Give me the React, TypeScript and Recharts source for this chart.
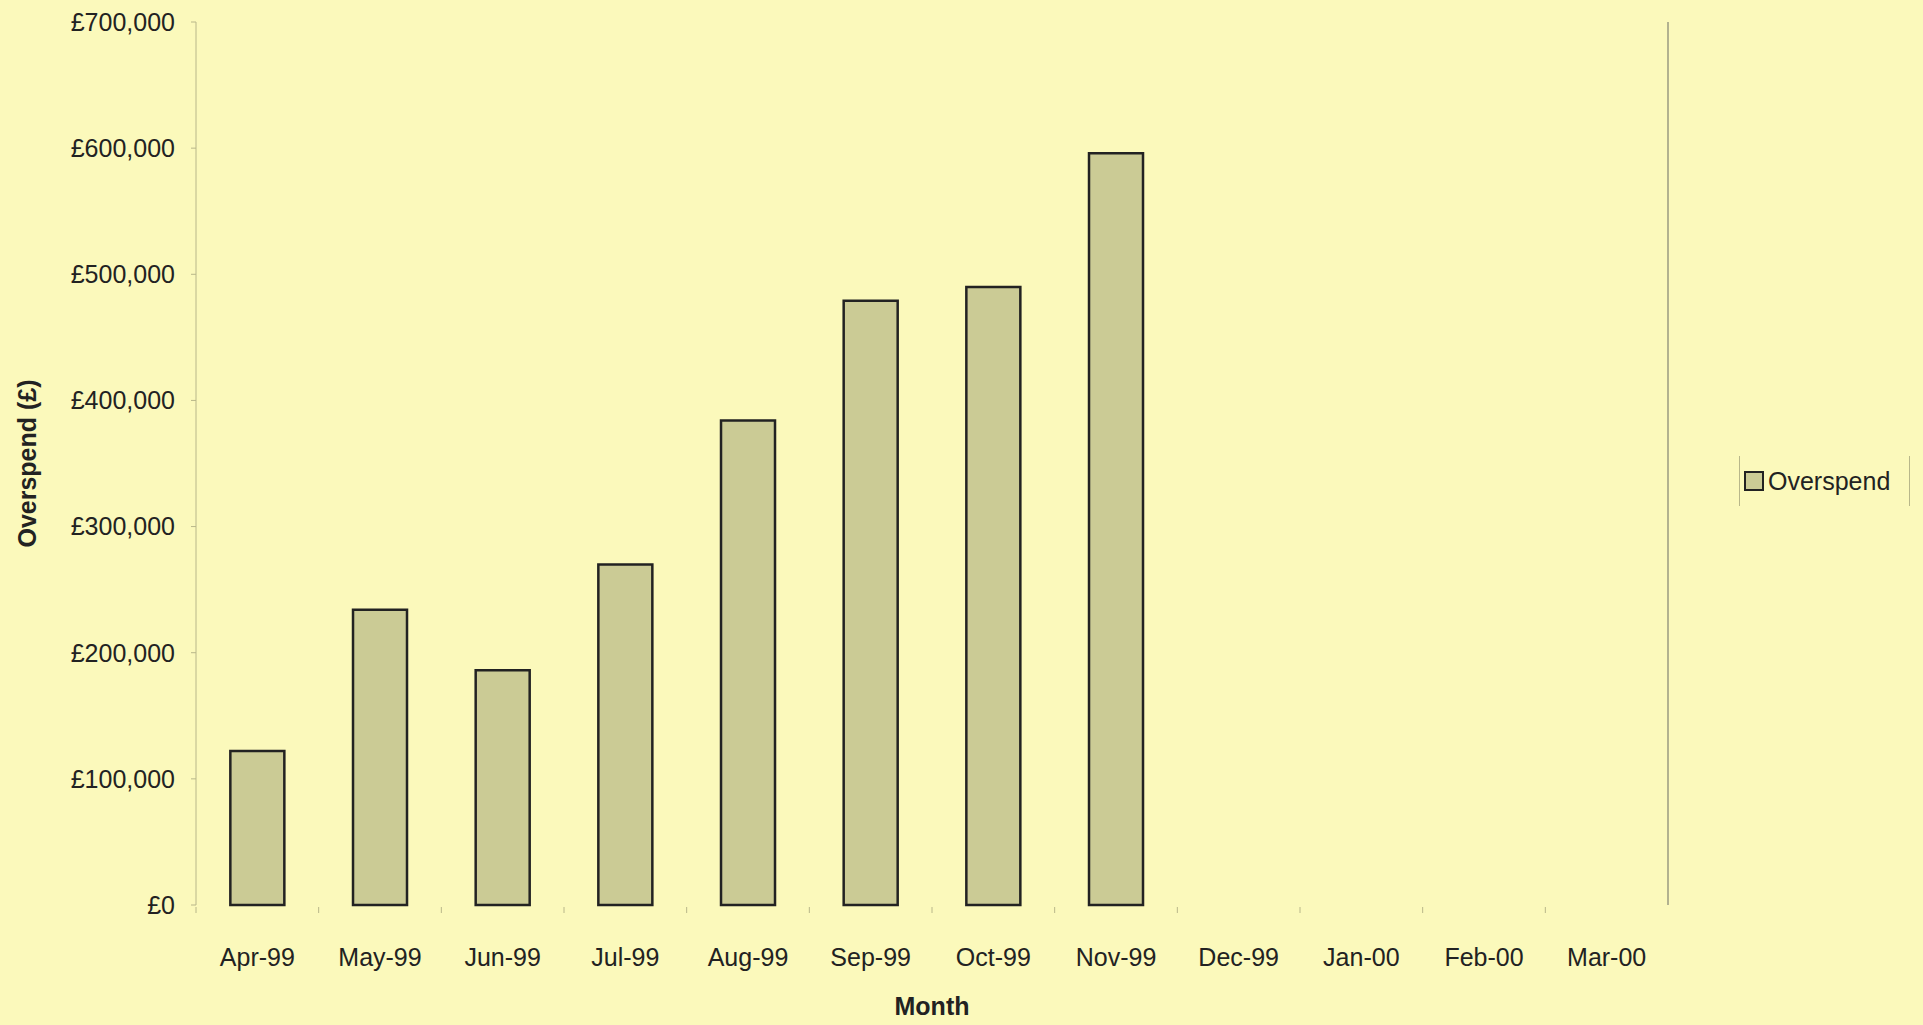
import { BarChart, Bar, XAxis, YAxis, Legend, CartesianGrid } from "recharts"

const months = [
  "Apr-99", "May-99", "Jun-99", "Jul-99", "Aug-99", "Sep-99",
  "Oct-99", "Nov-99", "Dec-99", "Jan-00", "Feb-00", "Mar-00",
]
const overspend = [122000, 234000, 186000, 270000, 384000, 479000, 490000, 596000, null, null, null, null]
const yTicks = [0, 100000, 200000, 300000, 400000, 500000, 600000, 700000]

const data = months.map((month, i) => ({ month, overspend: overspend[i] }))

const W = 1923
const H = 1025
const FONT = "'Liberation Sans', Arial, sans-serif"
const BG = "#fbf9bb"
const BAR = "#cbcb95"
const TEXT = "#222"
const AXIS = "#b8b78a"

const margin = { top: 22, right: 255, bottom: 10, left: 10 }
const plotWidth = W - margin.left - margin.right - 186
const band = plotWidth / months.length

const pounds = (v: number) => "£" + v.toLocaleString("en-GB")

function MonthTick(props: any) {
  const { x, y, payload } = props
  return (
    <g>
      <line x1={x - band / 2} x2={x - band / 2} y1={y - 41} y2={y - 35} stroke={AXIS} />
      <text x={x} y={y} dy="0.71em" textAnchor="middle" fill={TEXT} fontSize={25} fontFamily={FONT}>
        {payload.value}
      </text>
    </g>
  )
}

function YTitle(props: any) {
  const vb = props.viewBox
  const cx = vb.x + 17
  const cy = vb.y + vb.height / 2
  return (
    <text
      x={cx}
      y={cy}
      transform={`rotate(-90 ${cx} ${cy})`}
      textAnchor="middle"
      dominantBaseline="central"
      fill={TEXT}
      fontSize={25}
      fontWeight="bold"
      fontFamily={FONT}
    >
      Overspend (£)
    </text>
  )
}

function LegendBox() {
  return (
    <div
      style={{
        display: "flex",
        alignItems: "center",
        height: "100%",
        boxSizing: "border-box",
        borderLeft: `1px solid ${AXIS}`,
        borderRight: `1px solid ${AXIS}`,
        paddingLeft: 4,
        fontFamily: FONT,
        fontSize: 25,
        color: TEXT,
      }}
    >
      <span
        style={{
          display: "inline-block",
          width: 16,
          height: 16,
          background: BAR,
          border: "2.5px solid #222",
          marginRight: 4,
        }}
      />
      Overspend
    </div>
  )
}

export default function App() {
  return (
    <div style={{ position: "absolute", left: 0, top: 0, width: W, height: H, background: BG }}>
      <BarChart width={W} height={H} data={data} margin={margin} barCategoryGap="28%">
        {/* only the right-hand border of the plot area */}
        <CartesianGrid
          horizontal={false}
          verticalCoordinatesGenerator={({ offset }: any) => [offset.left + offset.width]}
          stroke="#9a9a80"
          strokeWidth={1.5}
        />
        <XAxis
          dataKey="month"
          height={110}
          tickLine={false}
          axisLine={false}
          tick={<MonthTick />}
          tickSize={5}
          tickMargin={38}
          interval={0}
          label={{ value: "Month", position: "insideBottom", offset: 0, fill: TEXT, fontSize: 25, fontWeight: "bold", fontFamily: FONT }}
        />
        <YAxis
          width={186}
          domain={[0, 700000]}
          ticks={yTicks}
          tickFormatter={pounds}
          tick={{ fill: TEXT, fontSize: 25, fontFamily: FONT }}
          tickSize={5}
          tickMargin={16}
          stroke={AXIS}
          label={{ content: <YTitle /> }}
        />
        <Legend
          layout="horizontal"
          align="center"
          verticalAlign="middle"
          content={<LegendBox />}
          wrapperStyle={{ left: 1739, top: 456, width: 171, height: 50 }}
        />
        <Bar dataKey="overspend" name="Overspend" fill={BAR} stroke="#222" strokeWidth={2.5} isAnimationActive={false} />
      </BarChart>
    </div>
  )
}
